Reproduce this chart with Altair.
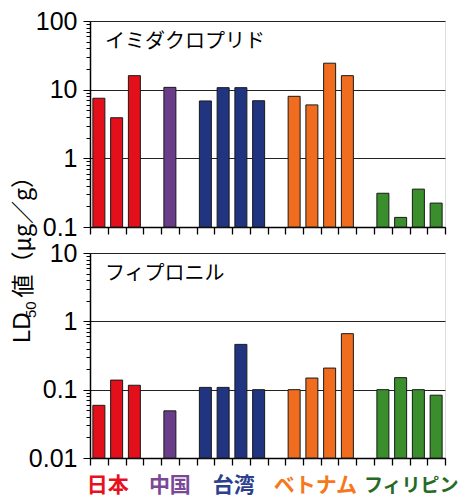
import altair as alt
import pandas as pd

# ---- data -------------------------------------------------------------
countries = ["日本", "日本", "日本", "中国", "台湾", "台湾", "台湾", "台湾",
             "ベトナム", "ベトナム", "ベトナム", "ベトナム",
             "フィリピン", "フィリピン", "フィリピン", "フィリピン"]
slots = [0, 1, 2, 4, 6, 7, 8, 9, 11, 12, 13, 14, 16, 17, 18, 19]
imidacloprid = [7.5, 3.9, 16.0, 10.8, 6.85, 10.7, 10.7, 6.9,
                8.0, 6.0, 24.3, 16.0, 0.31, 0.138, 0.356, 0.223]
fipronil = [0.059, 0.138, 0.116, 0.049, 0.108, 0.108, 0.46, 0.10,
            0.10, 0.148, 0.207, 0.66, 0.10, 0.15, 0.10, 0.083]

country_names = ["日本", "中国", "台湾", "ベトナム", "フィリピン"]
label_centers = [1.0, 4.5, 8.1, 12.7, 18.1]
bar_colors = ["#e3101b", "#6a3d8b", "#213480", "#f06c1e", "#3a8e2c"]
label_colors = ["#e8101c", "#7b4797", "#2c3f8f", "#f5781f", "#266a26"]

panel_titles = ["イミダクロプリド", "フィプロニル"]
y_title_parts = ["LD", "50", "値（μg／g）"]
top_decades = [0.1, 1, 10]
bottom_decades = [0.01, 0.1, 1]
x_tick_values = list(range(21))

W = 355
H_TOP = 206
H_BOT = 205

MAJOR = "abs(log(datum.value)/LN10 - round(log(datum.value)/LN10)) < 0.001"
AX_FONT = "Liberation Sans"
JP_FONT = "Noto Sans CJK JP"


def y_ticks(decades):
    vals = [d * m for d in decades for m in range(1, 10)]
    vals.append(decades[-1] * 10)
    return vals


x_enc = alt.X(
    "pos:Q",
    scale=alt.Scale(domain=[0, 20], nice=False, zero=False, padding=0),
    axis=alt.Axis(values=x_tick_values, labels=False, ticks=True, domain=True,
                  orient="bottom", title=None, grid=False,
                  tickSize=7, tickColor="black", tickWidth=1.3,
                  domainColor="black", domainWidth=1.5),
)


def panel(values, title, decades, height, extra=None):
    domain = [decades[0], decades[-1] * 10]
    df = pd.DataFrame({"country": countries, "slot": slots, "value": values})
    y_enc = alt.Y(
        "value:Q",
        scale=alt.Scale(type="log", domain=domain, nice=False),
        axis=alt.Axis(
            values=y_ticks(decades),
            labelExpr=f"({MAJOR}) ? format(datum.value, '~g') : ''",
            title=None,
            grid=True, gridColor="#222", gridWidth=1,
            gridOpacity={"condition": {"test": MAJOR, "value": 1}, "value": 0},
            tickSize={"condition": {"test": MAJOR, "value": 7}, "value": 4},
            tickColor="black", tickWidth=1,
            domainColor="black", domainWidth=1.5,
            labelFont=AX_FONT, labelFontSize=25, labelColor="black",
            labelPadding=6,
        ),
    )
    bars = alt.Chart(df).transform_calculate(pos="datum.slot + 0.5").mark_bar(
        size=12, stroke="#1a1a1a", strokeWidth=1
    ).encode(
        x=x_enc,
        y=y_enc,
        y2=alt.datum(domain[0]),
        color=alt.Color("country:N",
                        scale=alt.Scale(domain=country_names, range=bar_colors),
                        legend=None),
    )
    ttl = alt.Chart(pd.DataFrame({"t": [title]})).mark_text(
        align="left", baseline="middle", font=JP_FONT, fontSize=20, color="black"
    ).encode(x=alt.value(15), y=alt.value(21), text="t:N")
    layers = [bars, ttl] + (extra or [])
    return alt.layer(*layers).properties(width=W, height=height)


# country labels under the bottom panel
lab_df = pd.DataFrame({"name": country_names, "pos": label_centers,
                       "col": label_colors})
lab_main = alt.Chart(lab_df).transform_filter(
    "datum.name != 'フィリピン'"
).mark_text(
    font=JP_FONT, fontSize=21, fontWeight="bold", baseline="middle"
).encode(
    x=x_enc, y=alt.value(H_BOT + 28), text="name:N",
    color=alt.Color("col:N", scale=None),
)
lab_ph = alt.Chart(lab_df).transform_filter(
    "datum.name == 'フィリピン'"
).mark_text(
    font=JP_FONT, fontSize=19, fontWeight="bold", baseline="middle"
).encode(
    x=x_enc, y=alt.value(H_BOT + 28), text="name:N",
    color=alt.Color("col:N", scale=None),
)

# y-axis title (rotated, with subscript)
t_ld = alt.Chart(pd.DataFrame({"t": [y_title_parts[0]]})).mark_text(
    angle=270, align="left", baseline="middle", font=AX_FONT, fontSize=24,
    color="black"
).encode(x=alt.value(-67), y=alt.value(90), text="t:N")
t_50 = alt.Chart(pd.DataFrame({"t": [y_title_parts[1]]})).mark_text(
    angle=270, align="left", baseline="middle", font=AX_FONT, fontSize=15,
    color="black"
).encode(x=alt.value(-59), y=alt.value(65), text="t:N")
t_rest = alt.Chart(pd.DataFrame({"t": [y_title_parts[2]]})).mark_text(
    angle=270, align="left", baseline="middle", font=JP_FONT, fontSize=23,
    color="black"
).encode(x=alt.value(-66), y=alt.value(44.5), text="t:N")

top = panel(imidacloprid, panel_titles[0], top_decades, H_TOP)
bottom = panel(fipronil, panel_titles[1], bottom_decades, H_BOT,
               extra=[lab_main, lab_ph, t_ld, t_50, t_rest])

chart = alt.vconcat(top, bottom, spacing=26, bounds="flush").properties(
    padding={"left": 2, "top": 0, "right": 0, "bottom": 0}
).configure_view(
    stroke="black", strokeWidth=1.5
).configure(background="white")

chart.save("out.html", embed_options={"renderer": "svg", "actions": False})
